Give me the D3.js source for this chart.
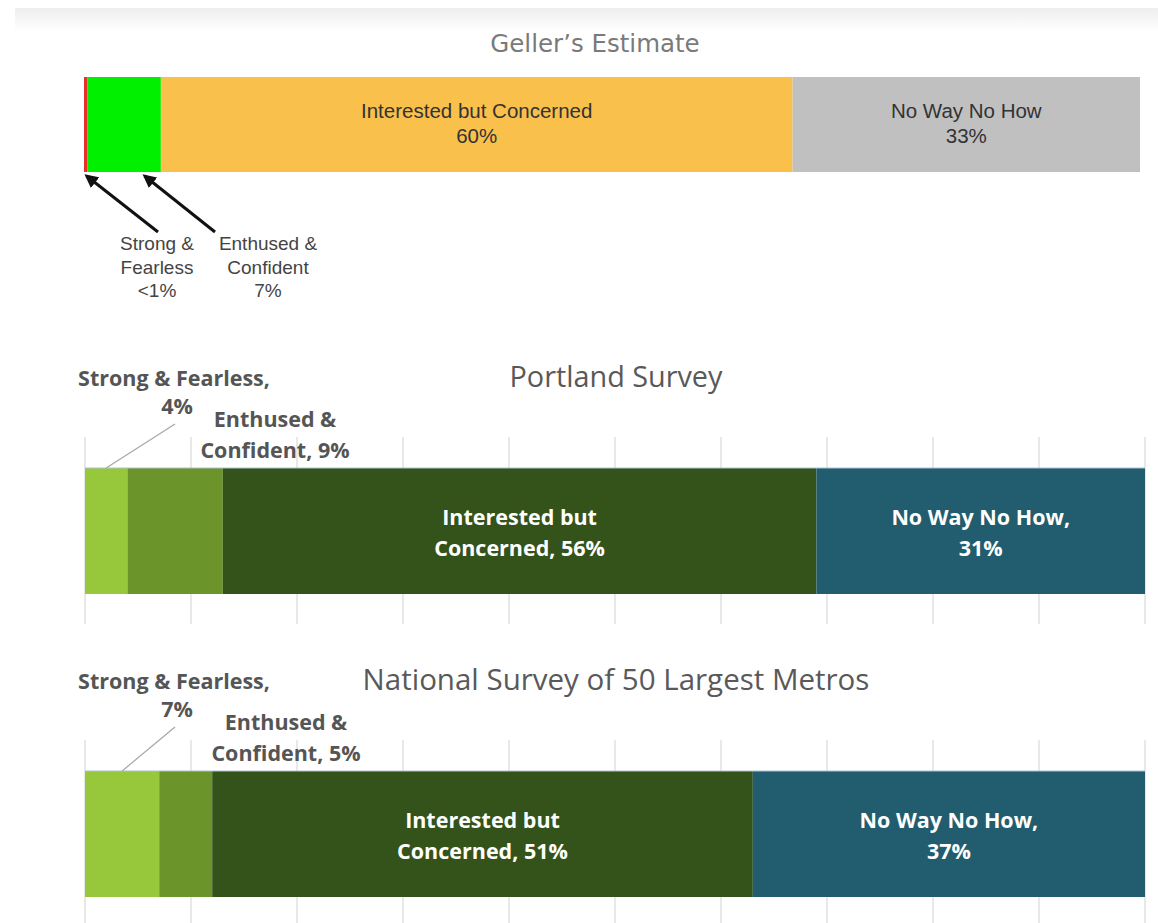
<!DOCTYPE html>
<html>
<head>
<meta charset="utf-8">
<script src="https://cdn.jsdelivr.net/npm/d3@7"></script>
<style>
  body { margin: 0; background: #fff; }
  svg { display: block; }
</style>
</head>
<body>
<svg id="chart" width="1158" height="923"></svg>
<script>
// data
var categories = ['Strong & Fearless', 'Enthused & Confident', 'Interested but Concerned', 'No Way No How'];

var gellerValues = [0.3, 7, 60, 33];
var gellerLabels = ['<1%', '7%', '60%', '33%'];
var gellerColors = ['#e8302a', '#00f000', '#f9c04c', '#c0c0c0'];

var portlandValues = [4, 9, 56, 31];
var nationalValues = [7, 5, 51, 37];
var surveyColors = ['#97c83b', '#6b952b', '#33531b', '#215d6e'];

var gridTicks = d3.range(0, 101, 10);

var svg = d3.select('#chart');

// faint slide edge at the very top
var defs = svg.append('defs');
var grad = defs.append('linearGradient').attr('id', 'topfade')
  .attr('x1', 0).attr('y1', 0).attr('x2', 0).attr('y2', 1);
grad.append('stop').attr('offset', '0%').attr('stop-color', '#eeeeee');
grad.append('stop').attr('offset', '100%').attr('stop-color', '#ffffff');
svg.append('rect').attr('x', 15).attr('y', 8).attr('width', 1143).attr('height', 24)
  .attr('fill', 'url(#topfade)');

/// GELLER'S ESTIMATE
var gx = d3.scaleLinear()
  .domain([0, d3.sum(gellerValues)])
  .range([84, 1140]);

var gStarts = d3.cumsum([0].concat(gellerValues));
var gData = gellerValues.map((v, i) => ({ cat: categories[i], v: v, s: gStarts[i], label: gellerLabels[i], color: gellerColors[i] }));

svg.append('text')
  .attr('x', 595).attr('y', 52)
  .attr('text-anchor', 'middle')
  .style('font-family', 'DejaVu Sans')
  .style('font-size', '24.5px')
  .style('fill', '#7a7a7a')
  .text('Geller\u2019s Estimate');

var gTop = 77, gH = 95;

svg.selectAll('.gbar')
  .data(gData)
  .enter()
  .append('rect')
  .attr('class', 'gbar')
  .attr('x', d => gx(d.s))
  .attr('y', gTop)
  .attr('width', d => gx(d.s + d.v) - gx(d.s))
  .attr('height', gH)
  .attr('fill', d => d.color);

// labels inside the two big segments
gData.slice(2).forEach(d => {
  var cx = gx(d.s + d.v / 2);
  var t = svg.append('text')
    .attr('x', cx).attr('y', 118)
    .attr('text-anchor', 'middle')
    .style('font-family', 'Liberation Sans, Arial')
    .style('font-size', '20.5px')
    .style('fill', '#333');
  t.append('tspan').attr('x', cx).text(d.cat);
  t.append('tspan').attr('x', cx).attr('dy', 25).text(d.label);
});

// arrows to the two thin segments
defs.append('marker').attr('id', 'arrowhead')
  .attr('viewBox', '0 0 10 10').attr('refX', 8).attr('refY', 5)
  .attr('markerWidth', 4.5).attr('markerHeight', 4.5)
  .attr('orient', 'auto')
  .append('path').attr('d', 'M0,0 L10,5 L0,10 Z').attr('fill', '#111');

var arrowTargets = [gx(gData[0].s + gData[0].v / 2) + 1, gx(gData[1].s + gData[1].v * 0.78)];
var arrowFrom = [[158, 232], [215, 232]];
arrowTargets.forEach((tx, i) => {
  svg.append('line')
    .attr('x1', arrowFrom[i][0]).attr('y1', arrowFrom[i][1])
    .attr('x2', tx).attr('y2', gTop + gH + 4)
    .attr('stroke', '#111').attr('stroke-width', 3)
    .attr('marker-end', 'url(#arrowhead)');
});

var smallLabels = [['Strong &', 'Fearless', gellerLabels[0]], ['Enthused &', 'Confident', gellerLabels[1]]];
var smallX = [157, 268];
smallLabels.forEach((lines, i) => {
  var t = svg.append('text')
    .attr('y', 250)
    .attr('text-anchor', 'middle')
    .style('font-family', 'Liberation Sans, Arial')
    .style('font-size', '19px')
    .style('fill', '#444');
  lines.forEach((l, j) => {
    t.append('tspan').attr('x', smallX[i]).attr('dy', j ? 23.5 : 0).text(l);
  });
});

/// SURVEY CHARTS
var sx = d3.scaleLinear().domain([0, 100]).range([85, 1145]);

function survey(values, title, top, ecx) {
  var barTop = top, barH = 126;
  var g = svg.append('g');

  // vertical gridlines
  g.selectAll('.grid')
    .data(gridTicks)
    .enter()
    .append('line')
    .attr('x1', d => sx(d)).attr('x2', d => sx(d))
    .attr('y1', barTop - 31).attr('y2', barTop + barH + 30)
    .attr('stroke', '#d9d9d9').attr('stroke-width', 1.2);

  var starts = d3.cumsum([0].concat(values));
  var data = values.map((v, i) => ({ cat: categories[i], v: v, s: starts[i], color: surveyColors[i] }));

  g.selectAll('.sbar')
    .data(data)
    .enter()
    .append('rect')
    .attr('x', d => sx(d.s))
    .attr('y', barTop)
    .attr('width', d => sx(d.s + d.v) - sx(d.s))
    .attr('height', barH)
    .attr('fill', d => d.color);

  g.append('line')
    .attr('x1', sx(0)).attr('x2', sx(100))
    .attr('y1', barTop).attr('y2', barTop)
    .attr('stroke', '#a9c3cf').attr('stroke-width', 1);

  g.append('text')
    .attr('x', 616).attr('y', barTop - 81)
    .attr('text-anchor', 'middle')
    .style('font-family', 'Open Sans')
    .style('font-size', title.length > 20 ? '29.5px' : '28.8px')
    .style('fill', '#595959')
    .text(title);

  var font = 'Open Sans';

  // inside labels
  [['Interested but', 'Concerned, ' + values[2] + '%'], ['No Way No How,', values[3] + '%']].forEach((lines, k) => {
    var d = data[k + 2];
    var cx = sx(d.s + d.v / 2);
    var t = g.append('text')
      .attr('y', barTop + 57)
      .attr('text-anchor', 'middle')
      .style('font-family', font)
      .style('font-weight', 'bold')
      .style('font-size', '21.5px')
      .style('fill', '#fff');
    lines.forEach((l, j) => t.append('tspan').attr('x', cx).attr('dy', j ? 31 : 0).text(l));
  });

  // strong & fearless label with leader
  var sfText = g.append('text')
    .attr('y', barTop - 82)
    .attr('text-anchor', 'middle')
    .style('font-family', font)
    .style('font-weight', 'bold')
    .style('font-size', '21.5px')
    .style('fill', '#555');
  sfText.append('tspan').attr('x', 174).text('Strong & Fearless,');
  sfText.append('tspan').attr('x', 177).attr('dy', 28).text(values[0] + '%');

  g.append('line')
    .attr('x1', 175).attr('y1', barTop - 44)
    .attr('x2', sx(values[0] * 0.5)).attr('y2', barTop)
    .attr('stroke', '#a6a6a6').attr('stroke-width', 1.2);

  var ecText = g.append('text')
    .attr('y', barTop - 41)
    .attr('text-anchor', 'middle')
    .style('font-family', font)
    .style('font-weight', 'bold')
    .style('font-size', '21.5px')
    .style('fill', '#555');
  ecText.append('tspan').attr('x', ecx).text('Enthused &');
  ecText.append('tspan').attr('x', ecx).attr('dy', 31).text('Confident, ' + values[1] + '%');
}

survey(portlandValues, 'Portland Survey', 468, 275);
survey(nationalValues, 'National Survey of 50 Largest Metros', 771, 286);
</script>
</body>
</html>
